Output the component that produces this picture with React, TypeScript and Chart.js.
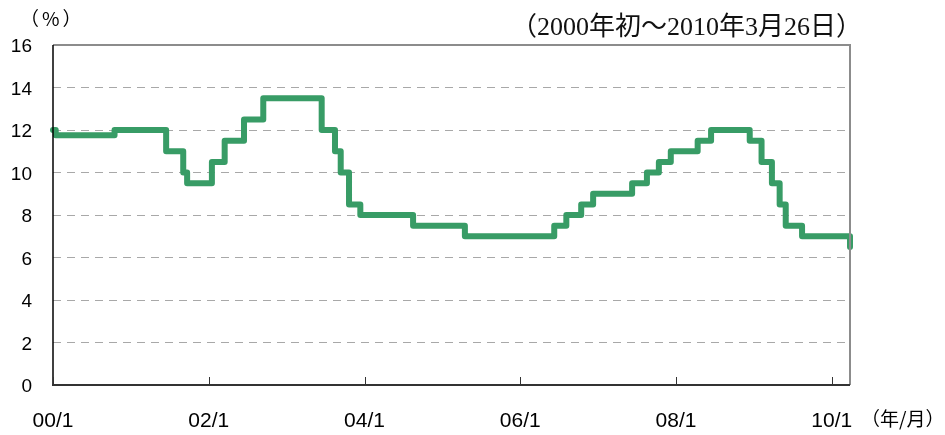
import React, { useEffect, useRef } from "react";
import { Chart, registerables } from "chart.js";

Chart.register(...registerables);

// Policy rate change dates (effective) and levels (%)
const changeDates = [
  "2000-01-01", "2000-01-14", "2000-10-16", "2001-06-14", "2001-09-03", "2001-09-21",
  "2002-01-16", "2002-03-15", "2002-06-14", "2002-09-13", "2003-06-13", "2003-08-15",
  "2003-09-11", "2003-10-20", "2003-12-12", "2004-08-16", "2005-04-15", "2006-06-08",
  "2006-08-04", "2006-10-13", "2006-12-08", "2007-06-08", "2007-08-17", "2007-10-12",
  "2007-12-07", "2008-04-11", "2008-06-13", "2008-12-12", "2009-02-06", "2009-03-25",
  "2009-04-30", "2009-05-29", "2009-08-14", "2010-03-26",
];
const rates = [
  12.0, 11.75, 12.0, 11.0, 10.0, 9.5,
  10.5, 11.5, 12.5, 13.5, 12.0, 11.0,
  10.0, 8.5, 8.0, 7.5, 7.0, 7.5,
  8.0, 8.5, 9.0, 9.5, 10.0, 10.5,
  11.0, 11.5, 12.0, 11.5, 10.5, 9.5,
  8.5, 7.5, 7.0, 6.5,
];
const endDate = "2010-03-26";
const xTickDates = ["2000-01-01", "2002-01-01", "2004-01-01", "2006-01-01", "2008-01-01", "2010-01-01"];
const xTickLabels = ["00/1", "02/1", "04/1", "06/1", "08/1", "10/1"];
const yMin = 0;
const yMax = 16;
const yStep = 2;
const titleText = "（2000年初～2010年3月26日）";
const yUnitText = "（%）";
const xUnitText = "（年/月）";

// months elapsed since 2000-01-01
function toMonths(s: string): number {
  const [y, m, d] = s.split("-").map(Number);
  const dim = new Date(y, m, 0).getDate();
  return (y - 2000) * 12 + (m - 1) + (d - 1) / dim;
}

const xTickValues = xTickDates.map(toMonths);

const decorPlugin = {
  id: "decor",
  afterDraw(chart: any) {
    const { ctx, chartArea } = chart;
    const { left, right, top, bottom } = chartArea;
    const xs = chart.scales.x;
    ctx.save();
    // top & right frame
    ctx.strokeStyle = "#8c8c8c";
    ctx.lineWidth = 2;
    ctx.beginPath();
    ctx.moveTo(left, top);
    ctx.lineTo(right, top);
    ctx.lineTo(right, bottom);
    ctx.stroke();
    // left axis
    ctx.strokeStyle = "#000";
    ctx.lineWidth = 1.5;
    ctx.beginPath();
    ctx.moveTo(left, top);
    ctx.lineTo(left, bottom);
    ctx.stroke();
    // bottom axis
    ctx.strokeStyle = "#333";
    ctx.lineWidth = 2;
    ctx.beginPath();
    ctx.moveTo(left - 1, bottom);
    ctx.lineTo(right, bottom);
    ctx.stroke();
    // inner tick marks
    ctx.strokeStyle = "#333";
    ctx.lineWidth = 1;
    xTickValues.forEach((v) => {
      const px = Math.round(xs.getPixelForValue(v)) + 0.5;
      ctx.beginPath();
      ctx.moveTo(px, bottom);
      ctx.lineTo(px, bottom - 8);
      ctx.stroke();
    });
    // texts
    ctx.fillStyle = "#000";
    ctx.textBaseline = "middle";
    ctx.textAlign = "left";
    ctx.font = "19px 'Noto Sans CJK JP'";
    (ctx as any).letterSpacing = "3px";
    ctx.fillText(yUnitText, 20, 19);
    (ctx as any).letterSpacing = "0px";
    ctx.textAlign = "right";
    ctx.font = "26px 'Liberation Serif', 'Noto Sans CJK JP'";
    ctx.fillStyle = "#111";
    ctx.fillText(titleText, 862, 28);
    ctx.textAlign = "left";
    ctx.fillStyle = "#000";
    ctx.font = "19px 'Noto Sans CJK JP'";
    ctx.fillText(xUnitText, 861, 419);
    ctx.restore();
  },
};

export default function App() {
  const ref = useRef<HTMLCanvasElement | null>(null);
  useEffect(() => {
    if (!ref.current) return;
    const points = changeDates.map((d, i) => ({ x: toMonths(d), y: rates[i] }));
    const chart = new Chart(ref.current, {
      type: "line",
      data: {
        datasets: [
          {
            data: points,
            borderColor: "#389c66",
            borderWidth: 6,
            stepped: "before",
            pointRadius: 0,
            fill: false,
            borderJoinStyle: "round",
            borderCapStyle: "round",
            clip: false,
          } as any,
        ],
      },
      options: {
        animation: false,
        responsive: false,
        devicePixelRatio: 1,
        layout: { padding: { left: 0, top: 45, right: 95, bottom: 0 } },
        plugins: { legend: { display: false }, tooltip: { enabled: false }, title: { display: false } },
        scales: {
          x: {
            type: "linear",
            min: 0,
            max: toMonths(endDate),
            afterFit: (s: any) => {
              s.height = 50;
            },
            afterBuildTicks: (s: any) => {
              s.ticks = xTickValues.map((v) => ({ value: v }));
            },
            grid: { display: false, drawTicks: false },
            border: { display: false },
            ticks: {
              autoSkip: false,
              maxRotation: 0,
              padding: 24,
              color: "#000",
              font: { family: "'Liberation Sans', Arial", size: 21 },
              callback: (v: any) => {
                const i = xTickValues.findIndex((t) => Math.abs(t - v) < 1e-6);
                return i >= 0 ? xTickLabels[i] : "";
              },
            },
          },
          y: {
            min: yMin,
            max: yMax,
            afterFit: (s: any) => {
              s.width = 53;
            },
            grid: {
              drawTicks: false,
              lineWidth: 1,
              color: (c: any) =>
                c.tick && c.tick.value > yMin && c.tick.value < yMax ? "#a8a8a8" : "rgba(0,0,0,0)",
            },
            border: { display: false, dash: [8, 6] },
            ticks: {
              stepSize: yStep,
              padding: 21,
              labelOffset: 2,
              color: "#000",
              font: { family: "'Liberation Sans', Arial", size: 19 },
            },
          },
        },
      },
      plugins: [decorPlugin],
    });
    return () => chart.destroy();
  }, []);
  return (
    <div style={{ position: "fixed", left: 0, top: 0, width: 945, height: 435, background: "#fff" }}>
      <canvas ref={ref} width={945} height={435} />
    </div>
  );
}
